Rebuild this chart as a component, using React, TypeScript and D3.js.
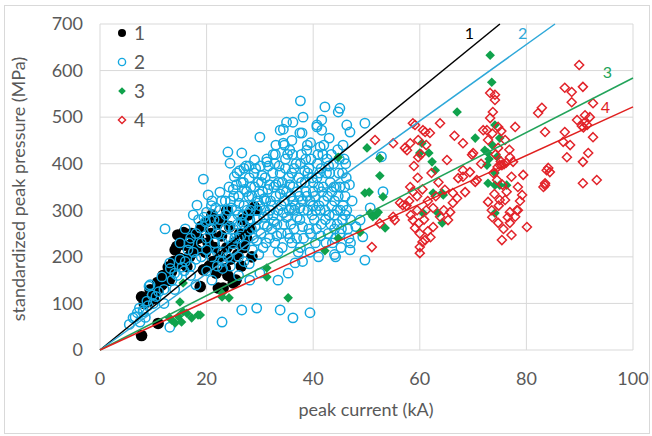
import React from "react";
import * as d3 from "d3";

const W = 652;
const H = 436;
const margin = { top: 24, right: 19, bottom: 86, left: 100 };

const xTicks = [0, 20, 40, 60, 80, 100];
const yTicks = [0, 100, 200, 300, 400, 500, 600, 700];

const seriesNames = ["1", "2", "3", "4"];
// slopes of the trendlines through the origin (MPa per kA)
const trendSlopes = [9.33, 8.2, 5.84, 5.22];

// series 1: black filled circles [kA, MPa]
const series1: number[][] = [
  [7.8, 31], [10.9, 57], [7.8, 114], [8.3, 100], [9.1, 104], [9.4, 129], [10.3, 122], [10, 110],
  [11.6, 140], [11, 132], [12.5, 157], [12, 145], [13.4, 168], [13, 150], [14.1, 215], [14.4, 222],
  [15.3, 243], [15.7, 252], [15, 197], [16.3, 179], [16.8, 200], [17.5, 232], [17.2, 250], [18.1, 215],
  [18.5, 240], [19.4, 172], [18.8, 136], [19.8, 210], [20.3, 230], [20.8, 250], [21.2, 190], [21.5, 220],
  [22.2, 133], [23.1, 133], [22.5, 200], [22.8, 245], [23.5, 175], [23.8, 220], [24.3, 265], [24.5, 195],
  [25, 144], [25.5, 150], [25.2, 230], [25.8, 205], [26.2, 250], [26.5, 180], [27, 220], [27.5, 240],
  [28, 260], [28.5, 200], [29, 307], [29.4, 300], [19, 265], [20, 275], [21, 290], [17, 205],
  [16, 225], [14.8, 185], [13.8, 190], [12.8, 178], [11.8, 160], [10.8, 145], [9.8, 125], [22, 270],
  [23, 280], [26.8, 280], [27.8, 290], [24, 160], [21.8, 165], [20.5, 180], [23.8, 300], [14.6, 247],
];

// series 2: cyan open circles
const series2: number[][] = [
  // lower-left band
  [5.5, 55], [6.2, 69], [6.6, 71], [7, 80], [8.1, 82], [8.1, 86], [7.5, 60], [8.5, 70], [9, 95],
  [9.2, 137], [9.4, 140], [10, 100], [10.5, 115], [11, 125], [11.6, 157], [12.2, 260], [12, 130],
  [13.1, 49], [13.1, 187], [13.5, 150], [14, 165], [14.5, 160], [15.4, 178], [15, 195], [15.8, 170],
  [16.5, 215], [16, 190], [17, 180], [17.5, 210], [18, 195], [18.2, 311], [18.8, 262], [19, 230],
  [19.4, 367], [20, 296], [20.3, 333], [20.6, 279], [20, 240], [21, 260], [21.5, 230], [22, 250],
  [22.5, 339], [22, 210], [22.5, 280], [23, 230], [23.5, 260], [24, 300], [23, 190], [24, 240],
  [22.9, 60], [12, 100], [14, 130], [17, 160], [18, 140], [20, 170], [21, 150], [23, 175],
  [17, 240], [18, 250], [19, 200], [20, 215], [21, 200], [22, 180], [23, 210], [24, 200],
  [25, 215], [26, 200], [27, 190], [19.5, 285], [21, 320], [22.5, 300], [23.5, 320], [25, 260],
  [26, 240], [27, 270], [28, 185], [24.5, 180], [20.5, 260], [18.5, 280], [16, 260], [15, 230], [17.5, 290],
  [13.2, 175], [16.7, 230], [19.8, 275], [21.4, 280], [22.8, 320], [23.6, 290], [21.7, 305], [20.9, 310],
  [9.8, 118], [8.8, 105], [7.4, 90],
  // upper scatter
  [24, 425], [26.6, 423], [29, 408], [24.4, 401], [25.7, 380], [31.3, 404], [30, 457], [33.8, 472],
  [34.4, 474], [35, 489], [36.2, 489], [37.5, 466], [37.6, 535], [38.1, 500], [40.7, 483], [41.6, 494],
  [41.6, 472], [42.2, 522], [45, 519], [44.7, 511], [49.7, 487], [46.3, 483], [46.9, 468], [40.7, 479],
  [37.9, 466], [34.4, 444], [35.6, 429], [38.8, 429], [41.3, 436], [52.8, 415], [28, 395], [32.5, 420],
  [36, 450], [39.5, 445], [43, 455], [27, 390], [33, 440],
  // lower scatter
  [26.6, 86], [29.4, 90], [33.8, 86], [36.2, 69], [39.4, 80], [28.1, 150], [33.4, 150], [35.3, 165],
  [36.6, 187], [49.7, 193], [46.9, 215], [49.3, 243], [48.8, 279], [50.7, 305], [53.1, 340], [26, 160],
  [30, 165], [38, 190], [41, 200], [44, 205], [47, 230], [45, 250], [48, 265], [46, 290],
  // dense cluster
  [24.5, 320], [25, 345], [25.5, 300], [26, 330], [26.5, 360], [27, 310], [27.5, 340], [28, 370],
  [24.8, 280], [25.8, 270], [26.8, 290], [27.8, 255], [28.2, 300], [24.2, 350], [26.2, 385], [27.2, 225],
  [28.6, 215], [25.3, 240],
  [24.3, 265], [24.7, 305], [25.1, 330], [25.6, 355], [26.1, 315], [26.6, 275], [27.1, 345], [27.6, 300],
  [25.2, 372], [27.4, 395], [26.4, 245], [28.1, 280], [24.9, 228], [27.9, 330], [26.9, 360], [25.9, 290],
  [28.5, 330], [29, 350], [29.5, 280], [30, 310], [30.5, 340], [31, 370], [31.5, 290], [32, 320],
  [29.2, 390], [30.2, 250], [31.2, 230], [29.8, 205], [30.8, 270], [31.8, 355], [28.8, 240], [30.4, 375],
  [32.2, 260], [29.6, 320], [31.6, 395], [30.9, 300],
  [28.3, 350], [28.7, 310], [29.1, 265], [29.5, 300], [29.9, 335], [30.3, 360], [30.7, 285], [31.1, 320],
  [31.5, 345], [31.9, 300], [28.9, 380], [30.1, 395], [31.3, 410], [29.4, 235], [30.6, 220], [31.8, 240],
  [28.4, 260], [29.7, 360], [30.8, 325], [31.4, 265],
  [32.5, 290], [33, 330], [33.5, 360], [34, 310], [34.5, 270], [35, 340], [35.5, 300], [36, 380],
  [32.8, 400], [33.2, 245], [34.2, 220], [35.2, 250], [36.2, 320], [33.8, 380], [34.8, 410], [35.8, 270],
  [32.6, 350], [34.4, 295], [35.6, 355], [33.4, 210], [36, 230],
  [32.2, 310], [32.6, 275], [33, 355], [33.4, 300], [33.8, 335], [34.2, 360], [34.6, 320], [35, 285],
  [35.4, 370], [35.8, 330], [32.4, 380], [33.6, 395], [34.8, 390], [35.2, 420], [32.8, 230], [34, 250],
  [35.6, 240], [33.2, 270], [34.4, 345], [35.9, 305], [32.9, 420], [34.6, 440],
  [36.5, 300], [37, 340], [37.5, 280], [38, 320], [38.5, 360], [39, 300], [39.5, 250], [40, 340],
  [36.8, 400], [37.8, 420], [38.2, 240], [39.2, 390], [40.2, 280], [36.4, 260], [37.3, 370], [38.8, 330],
  [39.8, 370], [37.6, 220], [38.6, 410], [39.4, 210], [40, 310],
  [36.2, 350], [36.6, 310], [37, 285], [37.4, 330], [37.8, 360], [38.2, 300], [38.6, 340], [39, 380],
  [39.4, 320], [39.8, 290], [36.4, 390], [37.6, 400], [38.4, 385], [39.6, 410], [36.9, 240], [38, 265],
  [39.2, 260], [37.2, 210], [40, 360], [36.1, 420], [38.9, 440], [37.5, 305],
  [40.5, 300], [41, 350], [41.5, 270], [42, 320], [42.5, 380], [43, 290], [43.5, 340], [44, 260],
  [40.8, 400], [41.8, 420], [42.8, 250], [43.8, 400], [40.4, 230], [41.2, 380], [42.2, 300], [43.2, 360],
  [44, 320], [41.6, 340], [42.6, 410], [43.6, 230],
  [40.3, 330], [40.7, 370], [41.1, 310], [41.5, 390], [41.9, 350], [42.3, 280], [42.7, 330], [43.1, 380],
  [43.5, 310], [43.9, 350], [40.6, 260], [41.4, 245], [42.4, 230], [43.3, 270], [44, 290], [40.9, 420],
  [42, 440], [43.4, 420], [41.3, 300], [42.9, 395],
  [44.5, 300], [45, 350], [45.5, 280], [46, 330], [44.8, 380], [45.8, 410], [44.2, 240], [46.5, 260],
  [45.2, 220], [46.2, 370], [44.6, 430], [45.6, 310],
  [44.3, 350], [44.7, 330], [45.1, 300], [45.5, 380], [45.9, 350], [46.3, 300], [46.7, 240], [45.3, 260],
  [44.5, 270], [46.1, 400], [44.9, 410], [47, 280], [47.3, 320], [44.2, 200], [45.6, 440], [46.8, 355],
];

// series 3: green filled diamonds
const series3: number[][] = [
  [13.5, 64], [14.1, 58], [15.3, 60], [16.3, 79], [17.2, 69], [18.4, 75], [14.7, 72], [15.6, 82],
  [13, 70], [15, 103], [15.6, 144], [22.9, 114], [22.9, 122], [24.2, 112], [18.8, 75], [31.3, 176],
  [31.3, 157], [35.3, 112], [42.2, 213], [44.7, 240], [48.8, 253], [44.7, 414], [50.1, 434], [52.5, 412],
  [52.5, 374], [49.7, 337], [50.5, 339], [53.1, 329], [50.7, 294], [51.2, 286], [51.8, 290], [52.2, 296],
  [53.5, 262], [60, 423], [60.4, 444], [61.7, 423], [62.3, 404], [62.9, 386], [64.4, 333], [62.5, 337],
  [64.2, 337], [63.4, 294], [60.6, 294], [64.2, 273], [67, 511], [70.4, 455], [72.2, 429], [72.8, 423],
  [72.6, 397], [73.2, 633], [73.5, 575], [74.1, 483], [75, 455], [74.1, 380], [72.8, 358], [74.1, 354],
  [75, 354], [76.3, 354], [74.1, 294], [73.6, 440], [74.5, 415], [73, 410],
];

// series 4: red open diamonds
const series4: number[][] = [
  [51, 221], [51.6, 451], [55, 444], [52.5, 272], [55, 286], [56.3, 316], [56.8, 311], [55.3, 279],
  [57.2, 434],
  [58.7, 487], [59.1, 483], [60.6, 472], [61, 468], [61.9, 466], [59.7, 451], [63.8, 487], [57.6, 429],
  [58.2, 444], [59.7, 414], [60.2, 420], [61.2, 440], [58.2, 350], [58.7, 340], [59.5, 330], [60.5, 345],
  [61.5, 320], [62.5, 305], [59.5, 300], [58.7, 279], [59.1, 262], [60, 250], [61, 236], [60, 221],
  [60, 208], [61.5, 255], [62.5, 264], [58.3, 290], [57.5, 310], [60.8, 280], [59.6, 370], [58.9, 395],
  [62.2, 380], [63.5, 360], [61.2, 300], [59.8, 272], [58, 320], [62, 242], [60.5, 232],
  [63.8, 286], [65.3, 279], [65.7, 296], [66.2, 316], [67, 326], [66.2, 337], [68.5, 339], [68.1, 372],
  [69.4, 382], [70.4, 361], [70.7, 365], [65.1, 408], [68.1, 386], [68.1, 444], [69.8, 419], [70, 423],
  [67.2, 369], [64.5, 300], [63, 330], [64.7, 344], [72.8, 451], [72.6, 472], [71.9, 472], [73.2, 498],
  [73.7, 511], [72.8, 318], [71.5, 400], [66.5, 460],
  [73.2, 552], [74.1, 548], [74.1, 537], [74.7, 479], [76, 451], [77.9, 479], [74.7, 434], [76.9, 414],
  [75.4, 397], [75, 397], [75.8, 399], [74.6, 393], [76.2, 402], [75.2, 405], [77.5, 404], [79.4, 376],
  [78.4, 350], [77.2, 372], [73.8, 380], [74.5, 365], [75.5, 355], [76.3, 340], [74, 335], [75, 322],
  [76, 322], [73.5, 300], [74.8, 310], [76.9, 296], [78.4, 300], [77.9, 286], [74.7, 273], [76.9, 273],
  [75.4, 236], [77.2, 247], [80.1, 264], [79.2, 333], [78.2, 300], [73.6, 285], [75.7, 260], [76.5, 285],
  [78.8, 320], [74.2, 420], [73.6, 465], [75.3, 470], [76.8, 430],
  [89.9, 612], [87.2, 563], [88.5, 554], [90.6, 565], [88.5, 532], [92.5, 530], [91, 504], [91.9, 500],
  [89.5, 494], [90.4, 481], [91.4, 483], [90.9, 488], [90.7, 478], [92.5, 457], [87.2, 468], [86.9, 447],
  [88.2, 440], [91.6, 423], [87.6, 414], [90.6, 404], [90.6, 358], [93.2, 365], [82.9, 520], [82.2, 509],
  [83.5, 468], [84.1, 391], [84.4, 382], [83.8, 386], [83.5, 358], [83.2, 350], [83.5, 354],
];

// end labels of the trendlines, in data units
const lineLabels: [string, number, number][] = [
  ["1", 69.3, 680],
  ["2", 79.3, 680],
  ["3", 95.2, 597],
  ["4", 94.8, 520],
];

const textColor = "#595959";
const gridColor = "#d9d9d9";
const black = "#000000";
const cyan = "#14a8e0";
const green = "#10a24c";
const red = "#e2232a";
const lineColors = [black, "#2ea8d9", "#22a35a", "#e0201f"];
const font = "Lato, 'Open Sans', sans-serif";

function diamond(cx: number, cy: number, r: number) {
  return `${cx},${cy - r} ${cx + r},${cy} ${cx},${cy + r} ${cx - r},${cy}`;
}

export default function App() {
  const x = d3.scaleLinear().domain([0, 100]).range([margin.left, W - margin.right]);
  const y = d3.scaleLinear().domain([0, 700]).range([H - margin.bottom, margin.top]);

  const line = d3
    .line<number[]>()
    .x((d) => x(d[0]))
    .y((d) => y(d[1]));

  const legendY = [33, 62, 91, 120];

  return (
    <svg
      width={W}
      height={H}
      style={{ position: "absolute", left: 0, top: 0, fontFamily: font }}
    >
      <rect x={0} y={0} width={W} height={H} fill="#fff" />
      <rect x={4.5} y={5.5} width={645} height={428} fill="none" stroke={gridColor} />

      {/* grid */}
      {yTicks.map((t) => (
        <line key={"gy" + t} x1={x(0)} x2={x(100)} y1={y(t)} y2={y(t)} stroke={gridColor} />
      ))}
      {xTicks.map((t) => (
        <line key={"gx" + t} x1={x(t)} x2={x(t)} y1={y(0)} y2={y(700)} stroke={gridColor} />
      ))}

      {/* tick labels */}
      {yTicks.map((t) => (
        <text
          key={"ty" + t}
          x={x(0) - 17}
          y={y(t)}
          dy="0.35em"
          textAnchor="end"
          fontSize={18}
          fill={textColor}
        >
          {t}
        </text>
      ))}
      {xTicks.map((t) => (
        <text
          key={"tx" + t}
          x={x(t)}
          y={y(0) + 29}
          dy="0.35em"
          textAnchor="middle"
          fontSize={18}
          fill={textColor}
        >
          {t}
        </text>
      ))}

      {/* axis titles */}
      <text x={366} y={410} dy="0.35em" textAnchor="middle" fontSize={18} fill={textColor}>
        peak current (kA)
      </text>
      <text
        transform={`translate(19,${(y(0) + y(700)) / 2 + 2}) rotate(-90)`}
        dy="0.35em"
        textAnchor="middle"
        fontSize={18}
        fill={textColor}
      >
        standardized peak pressure (MPa)
      </text>

      {/* series */}
      <g>
        {series1.map((d, i) => (
          <circle key={"a" + i} cx={x(d[0])} cy={y(d[1])} r={5.8} fill={black} />
        ))}
      </g>
      <g>
        {series2.map((d, i) => (
          <circle
            key={"b" + i}
            cx={x(d[0])}
            cy={y(d[1])}
            r={4.7}
            fill="none"
            stroke={cyan}
            strokeWidth={1.5}
          />
        ))}
      </g>
      <g>
        {series3.map((d, i) => (
          <polygon key={"c" + i} points={diamond(x(d[0]), y(d[1]), 4.8)} fill={green} />
        ))}
      </g>
      <g>
        {series4.map((d, i) => (
          <polygon
            key={"d" + i}
            points={diamond(x(d[0]), y(d[1]), 4.5)}
            fill="none"
            stroke={red}
            strokeWidth={1.5}
          />
        ))}
      </g>

      {/* trendlines */}
      {trendSlopes.map((k, i) => {
        const xEnd = Math.min(100, 700 / k);
        return (
          <path
            key={"tl" + i}
            d={line([[0, 0], [xEnd, k * xEnd]]) || ""}
            stroke={lineColors[i]}
            strokeWidth={1.5}
            fill="none"
          />
        );
      })}
      {lineLabels.map(([s, lx, ly], i) => (
        <text
          key={"ll" + s}
          x={x(lx)}
          y={y(ly)}
          dy="0.35em"
          textAnchor="middle"
          fontSize={16}
          fill={lineColors[i]}
        >
          {s}
        </text>
      ))}

      {/* legend */}
      {seriesNames.map((name, i) => {
        const cy = legendY[i];
        const cx = 122;
        let marker;
        if (i === 0) marker = <circle cx={cx} cy={cy} r={4} fill={black} />;
        else if (i === 1)
          marker = <circle cx={cx} cy={cy} r={3.6} fill="none" stroke={cyan} strokeWidth={1.4} />;
        else if (i === 2) marker = <polygon points={diamond(cx, cy, 3.8)} fill={green} />;
        else
          marker = (
            <polygon points={diamond(cx, cy, 3.6)} fill="none" stroke={red} strokeWidth={1.4} />
          );
        return (
          <g key={"lg" + name}>
            {marker}
            <text x={134} y={cy} dy="0.36em" fontSize={19} fill={textColor}>
              {name}
            </text>
          </g>
        );
      })}
    </svg>
  );
}
